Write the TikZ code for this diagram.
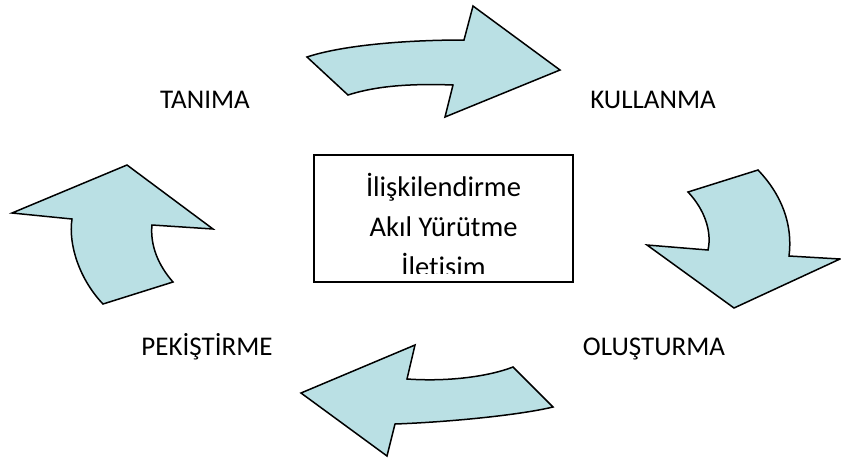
\documentclass[tikz,border=0pt]{standalone}
\usepackage{fontspec}
\setmainfont{Carlito}[Ligatures=NoCommon]
\usepackage{tikz}
\usetikzlibrary{positioning}
\definecolor{arrowcyan}{RGB}{186,224,228}

\begin{document}
\begin{tikzpicture}[
  x=1pt, y=-1pt,
  blockarrow/.style={draw=black, line width=1.5pt, fill=arrowcyan, line join=miter},
  stage/.style={font=\fontsize{27}{30}\selectfont, anchor=base, inner sep=0pt},
  centerbox/.style={draw=black, line width=1.4pt, minimum width=259pt, minimum height=127pt, inner sep=0pt},
  centertext/.style={font=\fontsize{28.5}{40}\selectfont, align=center, anchor=base, inner sep=0pt}
]
  \useasboundingbox (0,0) rectangle (841,459);

  % Asamalar
  \node[stage] (tanima) at (205,108) {TANIMA};
  \node[stage] (kullanma) at (653,108) {KULLANMA};
  \node[stage] (olusturma) at (654,355) {OLUŞTURMA};
  \node[stage] (pekistirme) at (207,355) {PEKİŞTİRME};

  % Orta kutu
  \node[centerbox] (merkez) at (443.5,218.5) {};
  \begin{scope}
    \clip (merkez.north west) rectangle ([yshift=9pt]merkez.south east);
    \node[centertext] (beceri) at (443.5,276) {İlişkilendirme\\Akıl Yürütme\\İletisim};
  \end{scope}

  % Ust ok
  \draw[blockarrow] (307,57) .. controls (340,46) and (400,40) .. (464,40)
    -- (473,6) -- (560,70) -- (445,117) -- (453,85)
    .. controls (400,83) and (370,88) .. (348,95) -- cycle;

  % Sag ok
  \draw[blockarrow] (758,170) -- (688,192)
    .. controls (705,210) and (712,232) .. (708,250)
    -- (647,245) -- (734,308) -- (840,259) -- (789,256)
    .. controls (793,225) and (782,195) .. cycle;

  % Alt ok
  \draw[blockarrow] (513,367) -- (553,407)
    .. controls (520,415) and (450,422) .. (395,424)
    -- (387,456) -- (301,393) -- (415,345) -- (407,379)
    .. controls (450,382) and (490,376) .. cycle;

  % Sol ok
  \draw[blockarrow] (103,304) -- (173,282)
    .. controls (158,265) and (150,245) .. (152,225)
    -- (213,229) -- (127,165) -- (12,213) -- (72,219)
    .. controls (68,245) and (80,280) .. cycle;

\end{tikzpicture}
\end{document}
